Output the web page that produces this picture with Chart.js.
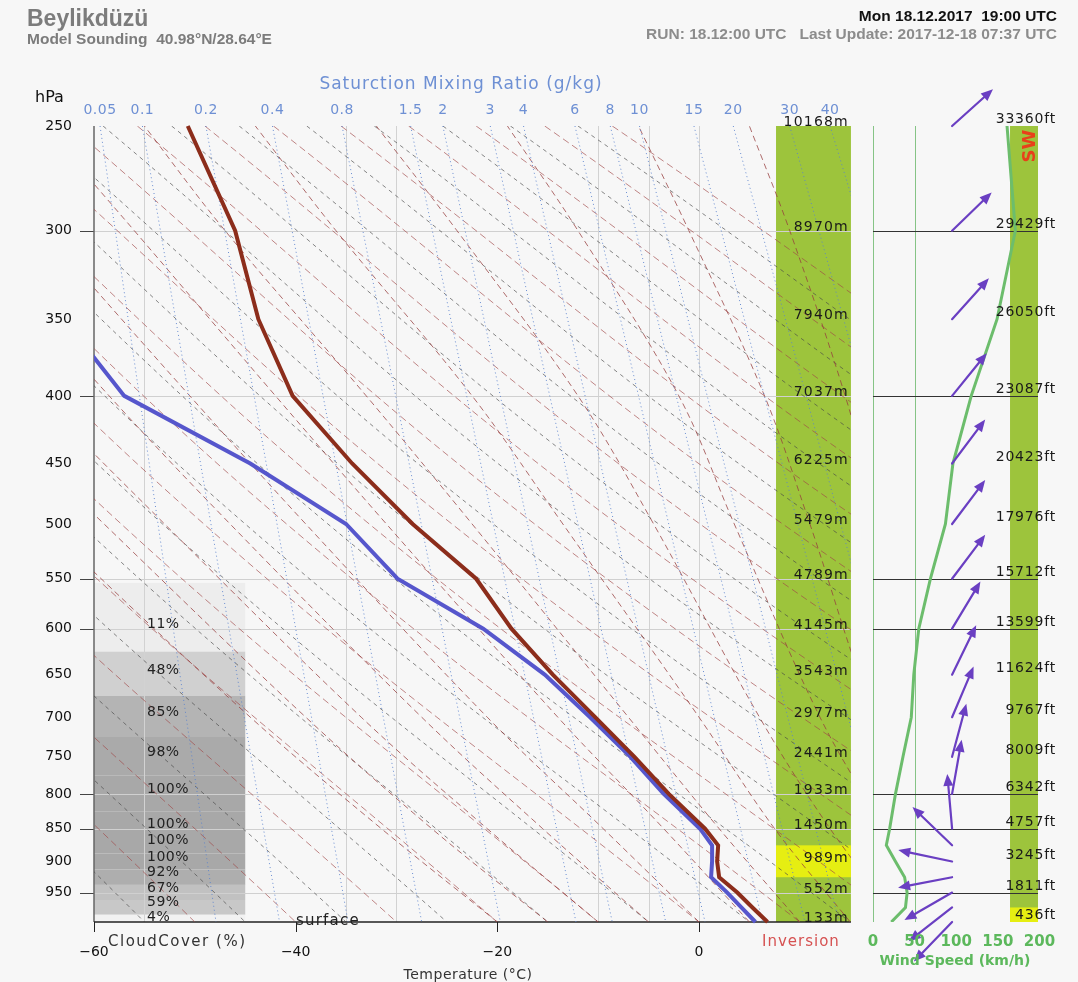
<!DOCTYPE html>
<html><head><meta charset="utf-8">
<script src="https://cdn.jsdelivr.net/npm/chart.js@4.4.1/dist/chart.umd.min.js"></script>
<style>html,body{margin:0;padding:0;background:#f7f7f7;}canvas{display:block;}</style>
</head><body>
<canvas id="c" width="1078" height="982"></canvas>
<script>
// ---------- axis / tick data ----------
const pressureTicks = [250,300,350,400,450,500,550,600,650,700,750,800,850,900,950];
const gridPressures = [300,400,550,600,800,850,950];
const isotherms = [-55,-35,-30,-10,-5,0];
const tempTicks = [-60,-40,-20,0];
const windTicks = [0,50,100,150,200];

// ---------- sounding ----------
const tempP = [250,300,350,400,450,500,550,600,650,700,750,800,850,875,900,925,950,975,1000];
const tempT = [-50.7,-46.0,-43.7,-40.3,-34.4,-28.4,-22.1,-18.6,-14.5,-10.3,-6.4,-3.0,0.6,1.9,1.8,2.0,3.8,5.3,6.8];
const dewP = [350,400,450,500,550,600,650,700,750,800,850,875,900,925,950,975,1000];
const dewT = [-63.0,-57.0,-44.5,-35.0,-29.9,-21.4,-15.3,-10.8,-6.8,-3.5,0.1,1.3,1.3,1.2,2.8,4.2,5.6];

// ---------- wind ----------
const windP = [250,300,350,400,450,500,550,600,650,700,750,800,850,875,900,925,950,975,1000];
const windSpeed = [161,171,149,118,96,87,69,55,49,46,36,27,20,16,27,38,41,39,22];
const windDir = [228,226,222,219,217,217,217,211,206,203,195,190,175,134,102,79,60,52,44];

// ---------- heights ----------
const heightP = [250,300,350,400,450,500,550,600,650,700,750,800,850,900,950,1000];
const heightM = [10168,8970,7940,7037,6225,5479,4789,4145,3543,2977,2441,1933,1450,989,552,133];
const heightFt = [33360,29429,26050,23087,20423,17976,15712,13599,11624,9767,8009,6342,4757,3245,1811,436];

// ---------- cloud cover ----------
const cloudP = [600,650,700,750,800,850,875,900,925,950,975,1000];
const cloudCover = [11,48,85,98,100,100,100,100,92,67,59,4];
const cloudTopP = 554;
const inversionLayer = [875,925];
const surfaceFlagLayer = [975,1000];

// ---------- saturation mixing ratio lines ----------
const mrLabels = ['0.05','0.1','0.2','0.4','0.8','1.5','2','3','4','6','8','10','15','20','30','40'];
const mrTopT = [-59.4,-55.2,-48.9,-42.3,-35.4,-28.6,-25.4,-20.7,-17.4,-12.3,-8.8,-5.9,-0.5,3.4,9.0,13.0];
const mrBottomT = [-47.9,-41.6,-34.8,-27.5,-19.7,-12.2,-8.6,-3.3,0.6,6.3,10.5,13.9,20.1,24.7,31,37];

// ---------- dry adiabats (theta in C at 1000 hPa, T at 250 and 500) ----------
const dryTheta = [-60,-55,-50,-45,-40,-35,-30,-25,-20,-15,-10,-5,0,5,10,15,20,25,30,35,40,45,50,55,60,65,70,75,80,85,90,95,100,105,110,115,120];
const dryT250 = [-129.7,-126.4,-123.0,-119.6,-116.3,-112.9,-109.5,-106.2,-102.8,-99.4,-96.1,-92.7,-89.4,-86.0,-82.6,-79.3,-75.9,-72.5,-69.2,-65.8,-62.4,-59.1,-55.7,-52.3,-49.0,-45.6,-42.2,-38.9,-35.5,-32.2,-28.8,-25.4,-22.1,-18.7,-15.3,-12.0,-8.6];
const dryT500 = [-98.3,-94.2,-90.1,-86.0,-81.9,-77.8,-73.7,-69.6,-65.5,-61.4,-57.3,-53.2,-49.1,-45.0,-40.9,-36.8,-32.7,-28.6,-24.5,-20.4,-16.3,-12.2,-8.1,-4.0,0.1,4.2,8.3,12.4,16.5,20.6,24.7,28.8,32.9,37.0,41.1,45.2,49.4];

// ---------- moist adiabats ----------
const moistP = [1000,850,700,500,400,300,250];
const moistT = [
  [-20,-31.5,-44.5,-65,-78,-93,-102],
  [-15,-26.5,-39,-59,-72,-87,-96],
  [-10,-21,-33.5,-53,-65.5,-80,-89],
  [-5,-15.5,-27.5,-46.5,-58.5,-73,-82],
  [0,-9.5,-21,-39,-50.5,-65,-74],
  [5,-3.5,-14,-31,-42,-56,-65],
  [10,2,-7,-22.5,-33,-47,-55],
  [15,7.5,0,-13.5,-22.5,-36,-44],
  [20,13,6,-4.5,-12,-24,-32],
  [25,18.5,12,3.5,-2,-12,-19],
  [30,23.5,17.5,11,6.5,-1,-6],
  [35,29,23.5,18,14.5,9,5]
];

// ---------- build datasets ----------
const mainClip = {left:0, top:0, right:-189, bottom:0};
const datasets = [];
datasets.push({data: tempP.map((p,i)=>({x:tempT[i], y:p})), borderColor:'#8c2d1b', borderWidth:4, showLine:true, tension:0, xAxisID:'x', yAxisID:'y', clip:{left:0,top:2,right:-189,bottom:2}});
datasets.push({data: dewP.map((p,i)=>({x:dewT[i], y:p})), borderColor:'#5656cc', borderWidth:4, showLine:true, tension:0, xAxisID:'x', yAxisID:'y', clip:{left:0,top:2,right:-189,bottom:2}});
datasets.push({data: windP.map((p,i)=>({x:windSpeed[i], y:p})), borderColor:'#6cbd6c', borderWidth:3, showLine:true, tension:0, xAxisID:'xw', yAxisID:'y'});
mrLabels.forEach((l,i)=>datasets.push({data:[{x:mrTopT[i],y:250},{x:mrBottomT[i],y:1000}], borderColor:'rgba(90,130,205,0.9)', borderWidth:1, borderDash:[1,3], showLine:true, tension:0, xAxisID:'x', yAxisID:'y', clip:mainClip}));
moistT.forEach(row=>datasets.push({data: moistP.map((p,j)=>({x:row[j], y:p})), borderColor:'rgba(150,60,60,0.75)', borderWidth:1, borderDash:[6,4], showLine:true, tension:0.35, xAxisID:'x', yAxisID:'y', clip:mainClip}));
dryTheta.forEach((th,i)=>datasets.push({data:[{x:dryT250[i],y:250},{x:dryT500[i],y:500},{x:th,y:1000}], borderColor: i%2 ? 'rgba(70,70,70,0.65)' : 'rgba(160,70,70,0.65)', borderWidth:1, borderDash: i%2 ? [4,4] : [7,4], showLine:true, tension:0.4, xAxisID:'x', yAxisID:'y', clip:mainClip}));

function txt(ctx, s, x, y, font, color, align, spacing){
  ctx.font = font; ctx.fillStyle = color; ctx.textAlign = align || 'left';
  ctx.textBaseline = 'alphabetic';
  try { ctx.letterSpacing = spacing || '0px'; } catch(e){}
  ctx.fillText(s, x, y);
  try { ctx.letterSpacing = '0px'; } catch(e){}
}

const decor = {
  id:'decor',
  beforeDraw(chart){
    const c = chart.ctx; c.save(); c.fillStyle='#f7f7f7'; c.fillRect(0,0,chart.width,chart.height); c.restore();
  },
  beforeDatasetsDraw(chart){
    const ctx = chart.ctx, x = chart.scales.x, y = chart.scales.y, w = chart.scales.xw, a = chart.chartArea;
    ctx.save();
    const L = x.getPixelForValue(-60), R = x.getPixelForValue(15.07), barL = x.getPixelForValue(7.64);
    // cloud bands
    const cx0 = x.getPixelForValue(-60), cx1 = x.getPixelForValue(-45);
    cloudP.forEach((p,i)=>{
      const top = i===0 ? cloudTopP : Math.sqrt(cloudP[i-1]*p);
      const bot = i===cloudP.length-1 ? 1000 : Math.sqrt(p*cloudP[i+1]);
      const g = Math.round(245 - 0.77*cloudCover[i]);
      ctx.fillStyle = 'rgb('+g+','+g+','+g+')';
      const y0 = y.getPixelForValue(top), y1 = y.getPixelForValue(bot);
      ctx.fillRect(cx0, y0, cx1-cx0, y1-y0);
    });
    // height column
    ctx.fillStyle = '#9dc43c';
    ctx.fillRect(barL, a.top, R-barL, a.bottom-a.top);
    ctx.fillStyle = '#e6ee12';
    const iy0 = y.getPixelForValue(inversionLayer[0]), iy1 = y.getPixelForValue(inversionLayer[1]);
    ctx.fillRect(barL, iy0, R-barL, iy1-iy0);
    // wind column
    const wb0 = w.getPixelForValue(164.6), wb1 = w.getPixelForValue(198.2);
    ctx.fillStyle = '#9dc43c';
    ctx.fillRect(wb0, a.top, wb1-wb0, a.bottom-a.top);
    ctx.fillStyle = '#e6ee12';
    const sy0 = y.getPixelForValue(surfaceFlagLayer[0]), sy1 = y.getPixelForValue(surfaceFlagLayer[1]);
    ctx.fillRect(wb0, sy0, wb1-wb0, sy1-sy0);
    // isotherm grid
    ctx.strokeStyle = '#d2d2d2'; ctx.lineWidth = 1;
    isotherms.forEach(t=>{ const px = Math.round(x.getPixelForValue(t))+0.5; ctx.beginPath(); ctx.moveTo(px,a.top); ctx.lineTo(px,a.bottom); ctx.stroke(); });
    // wind panel verticals
    ctx.strokeStyle = '#86c486';
    [0,50].forEach(v=>{ const px = Math.round(w.getPixelForValue(v))+0.5; ctx.beginPath(); ctx.moveTo(px,a.top); ctx.lineTo(px,a.bottom); ctx.stroke(); });
    // pressure grid
    gridPressures.forEach(p=>{
      const py = Math.round(y.getPixelForValue(p))+0.5;
      ctx.strokeStyle = '#d0d0d0'; ctx.beginPath(); ctx.moveTo(L,py); ctx.lineTo(R,py); ctx.stroke();
      ctx.strokeStyle = '#333'; ctx.beginPath(); ctx.moveTo(w.getPixelForValue(0),py); ctx.lineTo(w.getPixelForValue(198.2),py); ctx.stroke();
      ctx.strokeStyle = '#444'; ctx.beginPath(); ctx.moveTo(L-14,py); ctx.lineTo(L,py); ctx.stroke();
    });
    // axes lines
    ctx.strokeStyle = '#666'; ctx.lineWidth = 1.5;
    ctx.beginPath(); ctx.moveTo(L, a.top); ctx.lineTo(L, a.bottom); ctx.stroke();
    ctx.strokeStyle = '#222';
    ctx.beginPath(); ctx.moveTo(L, a.bottom); ctx.lineTo(R, a.bottom); ctx.stroke();
    ctx.lineWidth = 1;
    tempTicks.forEach(t=>{ const px = Math.round(x.getPixelForValue(t))+0.5; ctx.beginPath(); ctx.moveTo(px,a.bottom); ctx.lineTo(px,a.bottom+10); ctx.stroke(); });
    ctx.restore();
  },
  afterDatasetsDraw(chart){
    const ctx = chart.ctx, x = chart.scales.x, y = chart.scales.y, w = chart.scales.xw, a = chart.chartArea;
    ctx.save();
    // wind arrows
    ctx.strokeStyle = '#6a3fc2'; ctx.fillStyle = '#6a3fc2'; ctx.lineWidth = 2.2; ctx.lineCap = 'round';
    windP.forEach((p,i)=>{
      const tx = w.getPixelForValue(95), ty = y.getPixelForValue(p);
      const ang = (windDir[i]+180)*Math.PI/180;
      const dx = Math.sin(ang), dy = -Math.cos(ang), len = 55, hl = 12, hw = 5;
      const hx = tx+dx*len, hy = ty+dy*len;
      const bx = hx-dx*hl, by = hy-dy*hl;
      ctx.beginPath(); ctx.moveTo(tx,ty); ctx.lineTo(bx,by); ctx.stroke();
      ctx.beginPath(); ctx.moveTo(hx,hy); ctx.lineTo(bx-dy*hw, by+dx*hw); ctx.lineTo(bx+dy*hw, by-dx*hw); ctx.closePath(); ctx.fill();
    });
    const R = x.getPixelForValue(15.07);
    // heights
    heightP.forEach((p,i)=>{
      const py = y.getPixelForValue(p);
      txt(ctx, heightM[i]+'m', R-2, py, '14px "DejaVu Sans"', '#1a1a1a', 'right', '1.2px');
      txt(ctx, heightFt[i]+'ft', 1056, py-3, '14px "DejaVu Sans"', '#1a1a1a', 'right', '0.8px');
    });
    // cloud labels
    cloudP.forEach((p,i)=>{
      txt(ctx, cloudCover[i]+'%', 147, y.getPixelForValue(p)-1, '14px "DejaVu Sans"', '#222', 'left', '0.5px');
    });
    txt(ctx, 'surface', 296, 925, '15px "DejaVu Sans"', '#222', 'left', '1.2px');
    // mixing ratio labels
    mrLabels.forEach((l,i)=>{
      txt(ctx, l, x.getPixelForValue(mrTopT[i]), 114, '14px "DejaVu Sans"', '#6e90d4', 'center', '0.5px');
    });
    txt(ctx, 'Saturction Mixing Ratio (g/kg)', 461, 89, '17px "DejaVu Sans"', '#6e90d4', 'center', '1px');
    txt(ctx, 'hPa', 35, 102, '16px "DejaVu Sans"', '#111', 'left');
    // header
    txt(ctx, 'Beylikdüzü', 27, 26, 'bold 23px "Liberation Sans"', '#7c7c7c', 'left');
    txt(ctx, 'Model Sounding  40.98°N/28.64°E', 27, 44, 'bold 15.5px "Liberation Sans"', '#7c7c7c', 'left');
    txt(ctx, 'Mon 18.12.2017  19:00 UTC', 1057, 21, 'bold 15.5px "Liberation Sans"', '#111', 'right');
    txt(ctx, 'RUN: 18.12:00 UTC   Last Update: 2017-12-18 07:37 UTC', 1057, 39, 'bold 15.5px "Liberation Sans"', '#8c8c8c', 'right');
    // bottom labels
    txt(ctx, 'CloudCover (%)', 108, 946, '15px "DejaVu Sans"', '#333', 'left', '1.5px');
    txt(ctx, 'Temperature (°C)', 468, 979, '14px "DejaVu Sans"', '#333', 'center', '0.5px');
    txt(ctx, 'Inversion', 762, 946, '15px "DejaVu Sans"', '#d65252', 'left', '1px');
    windTicks.forEach(v=>{
      txt(ctx, String(v), w.getPixelForValue(v), 946, 'bold 15px "DejaVu Sans"', '#5cb85c', 'center');
    });
    txt(ctx, 'Wind Speed (km/h)', 955, 965, 'bold 14px "DejaVu Sans"', '#5cb85c', 'center');
    // direction label
    ctx.save(); ctx.translate(1028, 146); ctx.rotate(-Math.PI/2);
    txt(ctx, 'SW', 0, 7, 'bold 18px "DejaVu Sans"', '#e8401a', 'center');
    ctx.restore();
    ctx.restore();
  }
};

new Chart(document.getElementById('c'), {
  type:'scatter',
  data:{datasets},
  options:{
    responsive:false, animation:false, devicePixelRatio:1, events:[],
    layout:{padding:{left:0, right:38, top:126, bottom:20}},
    elements:{point:{radius:0, hoverRadius:0}},
    plugins:{legend:{display:false}, tooltip:{enabled:false}},
    scales:{
      y:{type:'logarithmic', position:'left', reverse:true, min:250, max:1000,
         afterFit(s){ s.width = 94; },
         afterBuildTicks(s){ s.ticks = pressureTicks.map(v=>({value:v})); },
         ticks:{autoSkip:false, padding:22, color:'#111', font:{family:'DejaVu Sans', size:14}, callback:(v)=>String(v)},
         grid:{display:false, drawTicks:false}, border:{display:false}},
      x:{type:'linear', position:'bottom', min:-60, max:33.82,
         afterFit(s){ s.height = 40; },
         afterBuildTicks(s){ s.ticks = tempTicks.map(v=>({value:v})); },
         ticks:{autoSkip:false, padding:22, color:'#111', font:{family:'DejaVu Sans', size:14}, callback:(v)=> v<0 ? '\u2212'+Math.abs(v) : String(v)},
         grid:{display:false, drawTicks:false}, border:{display:false}},
      xw:{type:'linear', display:false, min:-935.7, max:200.6}
    }
  },
  plugins:[decor]
});
</script>
</body></html>
